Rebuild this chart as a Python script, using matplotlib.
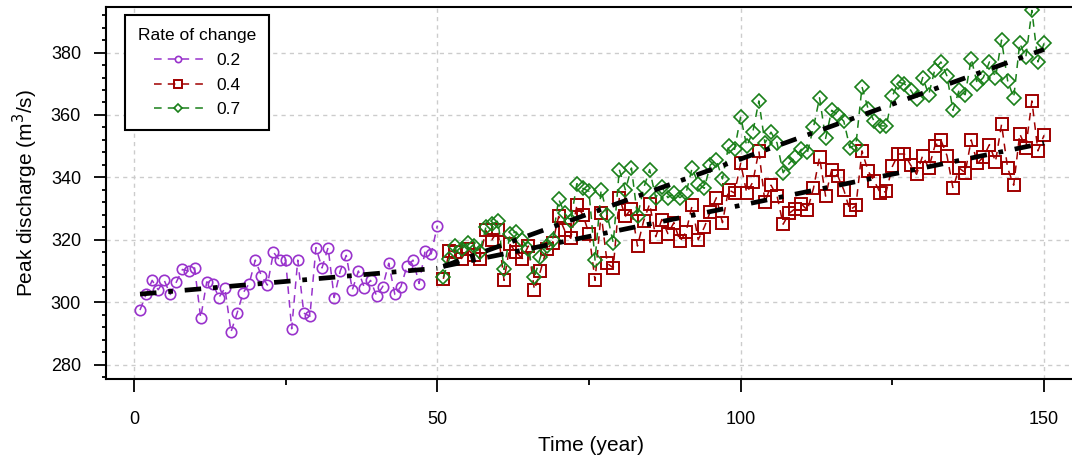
import matplotlib
matplotlib.use("Agg")
import matplotlib.pyplot as plt
import numpy as np

plt.rcParams['font.family'] = ['Liberation Sans', 'DejaVu Sans']

# years and peak discharge for each rate of change
years_02 = list(range(1, 51))
q_02 = [297.5, 302.5, 307, 304, 307, 302.5, 306.5, 310.5, 310, 311,
        295, 306.5, 306, 301.5, 304.5, 290.5, 296.5, 303, 306, 313.5,
        308.5, 305.5, 316, 313.5, 313.5, 291.5, 313.5, 296.5, 295.5, 317.5,
        311, 317.5, 301.5, 310, 315, 304, 310, 304.5, 307, 302,
        305, 312.5, 302.5, 305, 311.5, 313.5, 306, 316.5, 315.5, 324.5]

years_high = list(range(51, 151))
q_04 = [307.5, 316.5, 316, 314, 317, 315, 314, 323, 320, 323,
        307, 318.5, 316, 314, 318, 304, 310, 317, 319, 327.5,
        323, 320.5, 331, 328, 322, 307, 328.5, 312.5, 311, 333.5,
        327.5, 330, 318, 326, 331.5, 321, 326.5, 322, 325.5, 319.5,
        322.5, 331, 320, 324, 329, 333.5, 325.5, 336, 335, 344.5,
        335, 338.5, 348.5, 332, 337.5, 334, 325, 328.5, 330, 331.5,
        329.5, 336.5, 346.5, 334, 342.5, 340.5, 336, 329.5, 331, 348.5,
        342, 339, 335, 335.5, 343.5, 347.5, 347.5, 344, 341, 347,
        343, 350, 352, 347, 336.5, 343, 341.5, 352, 344.5, 346.5,
        350.5, 345, 357, 343, 337.5, 354, 349.5, 364.5, 348.5, 353.5]
q_07 = [308, 314, 318, 317, 319, 318, 316, 324, 325, 326,
        310.5, 322, 322.5, 320, 317, 308, 314.5, 318, 320, 333,
        328.5, 326, 338, 336.5, 335.5, 313.5, 336, 328, 319, 342.5,
        336, 343, 327.5, 336.5, 342.5, 333.5, 337, 333.5, 335, 333.5,
        335, 343, 338, 336.5, 344, 345.5, 339.5, 350, 349, 359.5,
        350, 354.5, 364.5, 351, 354.5, 351, 341.5, 344.5, 346.5, 349,
        348, 356, 365.5, 352.5, 361.5, 360, 358, 349.5, 350.5, 369,
        362, 358, 356.5, 356.5, 366, 370.5, 370, 368, 365, 372,
        366.5, 374.5, 377, 372.5, 361.5, 368, 366.5, 378, 370, 372,
        377, 372, 384, 371, 365.5, 383, 378.5, 393.5, 377, 383]

# fitted trends (start and end points)
trend_x_02 = [1, 50]
trend_02 = [302.6, 310.9]
trend_x_high = [51, 150]
trend_04 = [311.5, 351.0]
trend_07 = [311.5, 381.0]

purple = '#9933CC'
red = '#A00000'
green = '#1A801A'

fig = plt.figure(figsize=(10.72, 4.63), dpi=100)
ax = fig.add_axes([0.0989, 0.1814, 0.905, 0.8035])

ax.grid(True, color='#CCCCCC', linestyle=(0, (3, 3)), linewidth=1.0)
ax.set_axisbelow(True)

ax.plot(years_02, q_02, linestyle=(0, (5, 4)), color=purple, lw=1.1,
        marker='o', ms=7.5, mfc='none', mec=purple, mew=1.2, label='0.2')
ax.plot(years_high, q_04, linestyle=(0, (5, 4)), color=red, lw=1.1,
        marker='s', ms=8.5, mfc='none', mec=red, mew=1.4, label='0.4')
ax.plot(years_high, q_07, linestyle=(0, (5, 4)), color=green, lw=1.1,
        marker='D', ms=7.5, mfc='none', mec=green, mew=1.2, label='0.7')

trend_style = dict(color='black', lw=3.4, linestyle=(0, (3.5, 2.5, 1, 2.5)))
ax.plot(trend_x_02, trend_02, **trend_style)
ax.plot(trend_x_high, trend_04, **trend_style)
ax.plot(trend_x_high, trend_07, **trend_style)

ax.set_xlim(-4.6, 155.3)
ax.set_ylim(275.4, 394.6)
ax.set_xticks([0, 50, 100, 150])
ax.set_xticks([25, 75, 125], minor=True)
ax.set_yticks([280, 300, 320, 340, 360, 380])
ax.set_yticks(np.arange(276, 394, 4), minor=True)
ax.tick_params(axis='both', which='major', direction='out', length=9,
               width=1.3, labelsize=13)
ax.tick_params(axis='x', which='major', pad=14)
ax.tick_params(axis='y', which='major', pad=9)
ax.tick_params(axis='x', which='minor', direction='out', length=4, width=1.3)
ax.tick_params(axis='y', which='minor', direction='out', length=3, width=1.3)

for side in ['left', 'bottom', 'top']:
    ax.spines[side].set_linewidth(1.5)
ax.spines['right'].set_visible(False)

ax.set_xlabel('Time (year)', fontsize=15, labelpad=6)
ax.set_ylabel('Peak discharge (m$^3$/s)', fontsize=15, labelpad=8)

leg = ax.legend(title='Rate of change', loc='upper left',
                bbox_to_anchor=(0.0197, 0.978), borderaxespad=0,
                fontsize=12.5, title_fontsize=12.5,
                fancybox=False, framealpha=1, edgecolor='black',
                handlelength=2.8, markerscale=0.6, borderpad=0.75,
                labelspacing=0.55)
leg.get_frame().set_linewidth(1.5)

fig.savefig('out.png', dpi=100)
